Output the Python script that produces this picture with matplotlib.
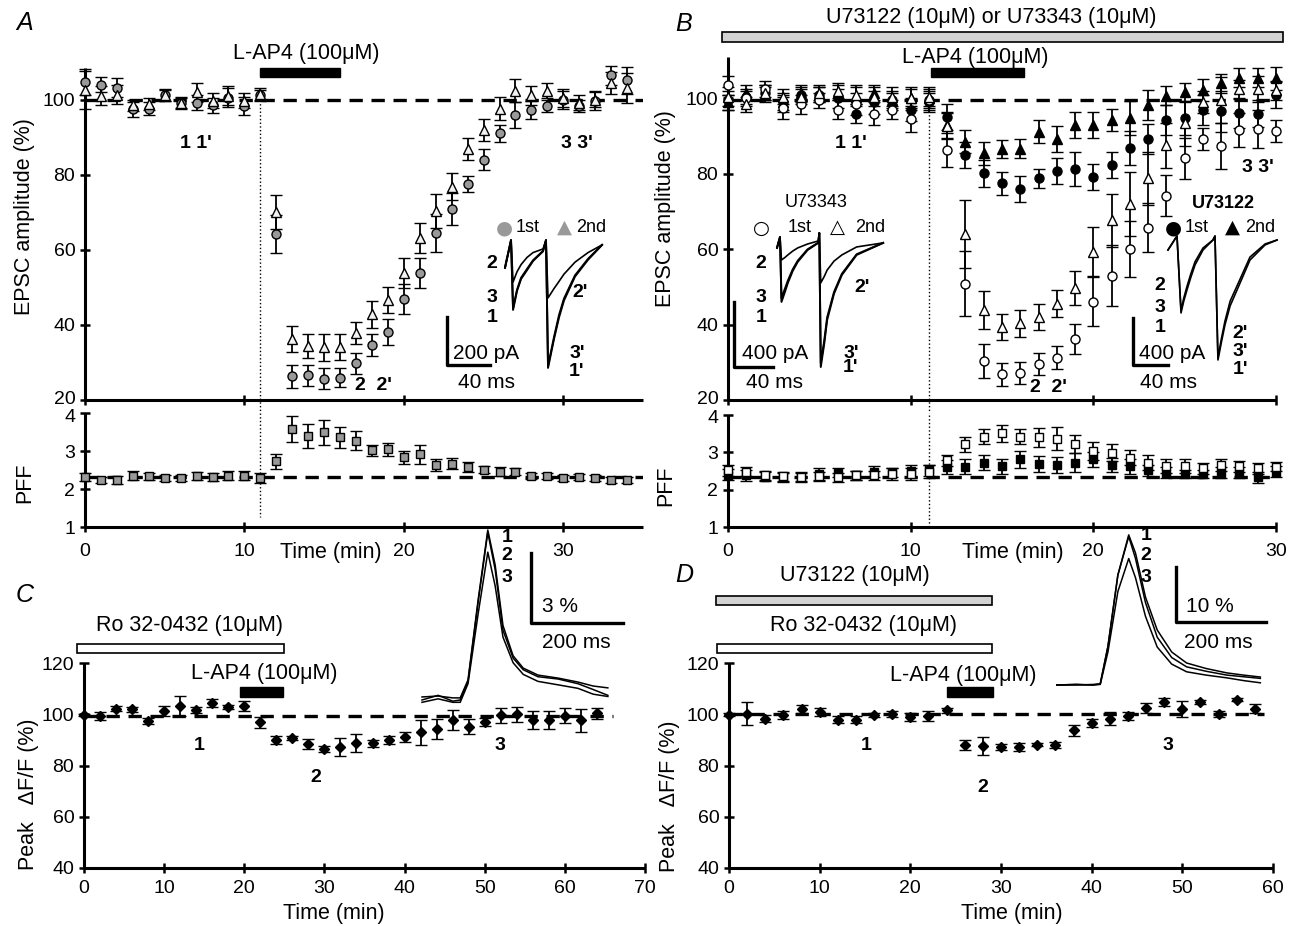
import numpy as np
import matplotlib
matplotlib.use("Agg")
import matplotlib.pyplot as plt
from matplotlib.patches import Rectangle
from matplotlib.transforms import ScaledTranslation

plt.rcParams["font.family"] = ["Liberation Sans", "DejaVu Sans"]
plt.rcParams["font.size"] = 14

W, H = 1293, 926

# ---------------- panel A : EPSC amplitude and PPF ----------------
a_time = np.arange(0, 35)
a_1st = [104.7, 104.1, 103.3, 97.5, 97.7, 101.3, 99.1, 99.3, 98.6, 100.6, 98.4, 101.2,
         64.3, 26.3, 26.6, 25.6, 25.9, 29.8, 34.7, 38.2, 46.9, 53.9, 64.5, 70.9, 77.6,
         84.1, 91.1, 95.9, 97.3, 98.4, 100.0, 98.4, 99.8, 106.6, 105.2]
a_1st_err = [3.5, 2.0, 2.5, 2.0, 1.8, 1.5, 1.5, 2.0, 2.0, 2.5, 2.5, 1.5, 5.0, 3.0, 2.8,
             2.8, 2.5, 2.8, 3.0, 3.5, 4.0, 4.0, 5.0, 4.2, 2.2, 2.8, 2.2, 3.5, 2.5, 1.5,
             2.5, 1.5, 2.5, 2.5, 3.5]
a_2nd = [102.7, 101.1, 101.4, 98.6, 98.9, 101.2, 99.3, 102.0, 99.8, 101.1, 99.8, 101.6,
         70.2, 36.3, 34.4, 34.0, 34.2, 37.9, 42.8, 46.7, 53.9, 63.1, 70.3, 76.9, 86.9,
         92.0, 97.7, 102.5, 101.2, 102.4, 100.5, 99.3, 100.0, 104.5, 103.2]
a_2nd_err = [5.0, 2.5, 2.5, 1.5, 1.5, 1.5, 1.5, 2.5, 2.0, 2.5, 2.0, 1.5, 4.5, 3.5, 3.2,
             3.5, 3.5, 3.0, 3.5, 3.5, 4.0, 4.0, 4.5, 3.5, 3.0, 3.0, 3.0, 3.0, 2.5, 2.0,
             2.5, 2.0, 2.0, 3.0, 4.0]
a_pff = [2.32, 2.23, 2.23, 2.35, 2.33, 2.29, 2.29, 2.35, 2.32, 2.35, 2.35, 2.29, 2.73,
         3.58, 3.40, 3.49, 3.36, 3.27, 3.02, 3.04, 2.83, 2.92, 2.63, 2.67, 2.58, 2.51,
         2.46, 2.46, 2.35, 2.35, 2.29, 2.31, 2.29, 2.23, 2.23]
a_pff_err = [0.10, 0.08, 0.10, 0.12, 0.10, 0.08, 0.08, 0.10, 0.10, 0.12, 0.12, 0.12,
             0.20, 0.35, 0.32, 0.32, 0.28, 0.25, 0.15, 0.18, 0.18, 0.25, 0.15, 0.15,
             0.12, 0.10, 0.12, 0.10, 0.08, 0.08, 0.08, 0.08, 0.08, 0.08, 0.08]

# example EPSC traces (ms, pA)
a_tr_t = [0, 5.6, 7.5, 11.2, 15.0, 20.6, 26.2, 35.5, 38.3, 40.2, 45.8, 50.5, 55.1,
          65.4, 77.6, 90.7]
a_tr_1 = [-104, 12, -279, -200, -150, -113, -75, -35, 12, -521, -400, -310, -240,
          -140, -70, -8]
a_tr_2 = [-104, 12, -163, -120, -90, -60, -40, -25, 12, -229, -190, -160, -130,
          -80, -40, -8]
a_tr_3 = [-100, 12, -272, -195, -145, -108, -72, -33, 12, -512, -392, -300, -232,
          -135, -66, -8]

# ---------------- panel B ----------------
b_time = np.arange(0, 31)
b_343_1st = [103.5, 100.0, 102.5, 97.5, 98.5, 99.5, 97.0, 98.5, 96.0, 97.0, 94.5, 99.5,
             86.3, 50.9, 30.3, 26.8, 27.2, 29.5, 31.2, 36.2, 46.1, 53.0, 60.0, 65.7,
             74.2, 84.1, 89.2, 87.4, 91.6, 91.9, 91.4]
b_343_1st_err = [2.5, 2.0, 2.0, 3.0, 2.5, 2.0, 2.5, 3.0, 3.0, 2.5, 3.5, 2.5, 4.5, 8.5,
                 4.5, 3.0, 3.0, 3.0, 3.0, 4.0, 6.5, 8.0, 7.5, 6.5, 5.5, 5.5, 3.0, 6.0,
                 4.5, 5.0, 3.0]
b_343_2nd = [100.5, 98.5, 101.5, 100.5, 100.5, 101.5, 102.0, 101.0, 100.5, 100.5, 100.0,
             100.5, 92.7, 64.0, 43.9, 39.4, 40.3, 42.1, 45.6, 49.6, 59.3, 67.7, 72.1,
             78.8, 87.6, 93.4, 99.1, 99.6, 102.4, 102.5, 102.2]
b_343_2nd_err = [2.5, 2.0, 2.0, 2.0, 2.0, 2.0, 2.0, 2.5, 2.5, 2.5, 3.0, 2.5, 3.5, 9.0,
                 5.0, 3.5, 3.5, 3.5, 3.5, 4.5, 6.5, 7.0, 8.5, 7.0, 6.0, 6.0, 3.0, 6.0,
                 2.5, 3.5, 2.5]
b_122_1st = [99.5, 100.5, 101.5, 99.0, 101.0, 101.0, 100.0, 96.0, 99.0, 99.5, 97.0, 99.0,
             95.1, 85.0, 80.1, 77.5, 76.0, 78.8, 80.7, 81.2, 79.2, 82.3, 86.9, 89.2,
             94.3, 94.7, 96.9, 96.6, 96.2, 96.0, 100.9]
b_122_1st_err = [2.5, 2.0, 2.0, 2.5, 2.0, 2.0, 2.5, 2.5, 3.0, 2.5, 3.0, 2.5, 3.5, 3.5,
                 3.5, 3.0, 3.5, 2.5, 3.5, 4.5, 3.5, 3.5, 4.5, 4.0, 4.0, 4.5, 4.0, 5.5,
                 4.0, 3.5, 3.5]
b_122_2nd = [99.0, 101.5, 101.0, 99.0, 101.5, 101.0, 101.5, 100.5, 101.5, 99.5, 100.0,
             100.0, 92.9, 88.5, 85.4, 86.6, 86.7, 91.2, 89.2, 92.9, 92.9, 94.3, 94.9,
             98.2, 100.7, 101.6, 102.2, 104.0, 105.5, 105.5, 105.3]
b_122_2nd_err = [2.0, 2.0, 2.0, 2.0, 2.0, 2.0, 2.0, 2.5, 2.0, 2.0, 2.5, 2.5, 3.5, 3.0,
                 3.0, 2.5, 2.5, 3.0, 3.5, 3.5, 3.5, 3.0, 4.5, 4.0, 2.5, 2.5, 3.0, 2.5,
                 2.5, 2.5, 3.0]
b_pff_343 = [2.52, 2.48, 2.39, 2.36, 2.33, 2.36, 2.33, 2.39, 2.39, 2.42, 2.42, 2.48, 2.79,
             3.22, 3.42, 3.51, 3.42, 3.40, 3.37, 3.22, 3.04, 2.99, 2.86, 2.72, 2.63,
             2.63, 2.57, 2.66, 2.63, 2.57, 2.61]
b_pff_343_err = [0.15, 0.12, 0.12, 0.12, 0.12, 0.12, 0.12, 0.12, 0.12, 0.15, 0.15, 0.18,
                 0.15, 0.20, 0.20, 0.22, 0.20, 0.25, 0.30, 0.25, 0.25, 0.22, 0.20, 0.20,
                 0.18, 0.18, 0.15, 0.15, 0.15, 0.15, 0.12]
b_pff_122 = [2.40, 2.38, 2.35, 2.33, 2.35, 2.42, 2.45, 2.38, 2.48, 2.45, 2.50, 2.52, 2.61,
             2.61, 2.72, 2.63, 2.81, 2.68, 2.66, 2.72, 2.81, 2.66, 2.63, 2.52, 2.45,
             2.42, 2.42, 2.45, 2.45, 2.33, 2.48]
b_pff_122_err = [0.15, 0.15, 0.12, 0.12, 0.12, 0.15, 0.12, 0.12, 0.15, 0.12, 0.15, 0.15,
                 0.18, 0.20, 0.20, 0.20, 0.22, 0.22, 0.22, 0.25, 0.20, 0.20, 0.20, 0.15,
                 0.15, 0.12, 0.12, 0.15, 0.15, 0.15, 0.15]

# example traces, U73343 (ms, pA)
b1_tr_t = [0, 3, 4.5, 8, 11, 16, 21, 31, 42, 43, 44.5, 48, 51, 58, 66, 81, 108]
b1_tr_1 = [-49, 18, -381, -320, -264, -190, -135, -62, -18, 43, -781, -640, -492,
           -330, -215, -92, -18]
b1_tr_2 = [-49, 18, -123, -108, -92, -68, -49, -25, -6, 43, -264, -225, -185,
           -130, -92, -43, -18]
b1_tr_3 = [-45, 18, -357, -300, -250, -180, -128, -58, -16, 43, -756, -620, -476,
           -320, -208, -88, -18]
# example traces, U73122 (ms, pA)
b2_tr_t = [0, 10.3, 14.9, 18.0, 21.7, 26.0, 30.9, 40.0, 51.4, 53.7, 57.1, 61.0, 65.1,
           71.0, 78.9, 93.7, 110.9, 124.6]
b2_tr_1 = [-85, 34, -620, -520, -425, -320, -212, -85, 0, 34, -1020, -870, -722,
           -560, -425, -170, -42, 0]
b2_tr_2 = [-85, 34, -600, -495, -395, -290, -185, -68, 0, 34, -1000, -840, -690,
           -520, -390, -145, -34, 0]

# ---------------- panel C ----------------
c_time = np.arange(0, 65, 2)
c_val = [99.7, 99.4, 102.2, 101.9, 97.4, 101.3, 103.2, 101.5, 104.5, 102.8, 103.2, 96.8,
         89.9, 90.7, 88.4, 86.5, 87.4, 88.6, 88.6, 89.9, 91.0, 92.9, 94.2, 97.7, 95.1,
         97.0, 99.6, 100.0, 97.7, 97.7, 99.4, 97.7, 100.3]
c_err = [0.5, 1.5, 1.0, 1.0, 1.2, 2.0, 4.0, 1.2, 1.5, 0.8, 2.0, 2.2, 1.5, 0.8, 2.0, 1.2,
         3.5, 3.5, 1.5, 1.5, 2.0, 5.0, 4.0, 4.0, 3.0, 1.5, 3.0, 3.0, 3.5, 3.5, 3.0, 4.5, 2.0]
# Ca transients (ms, %)
c_tr_t = [0, 35, 67, 83, 100, 122, 143, 159, 176, 198, 220, 252, 296, 339, 372, 404]
c_tr_1 = [0.13, 0.17, 0.09, 0.09, 0.86, 4.3, 7.3, 5.8, 3.2, 1.9, 1.37, 1.07, 0.94, 0.77, 0.6, 0.52]
c_tr_2 = [0.0, 0.2, -0.05, 0.0, 0.8, 4.2, 7.2, 5.6, 3.0, 1.8, 1.3, 1.0, 0.9, 0.7, 0.45, 0.2]
c_tr_3 = [-0.1, 0.05, -0.1, -0.1, 0.7, 3.7, 6.35, 4.9, 2.7, 1.6, 1.1, 0.8, 0.65, 0.5, 0.25, 0.15]

# ---------------- panel D ----------------
d_time = np.arange(0, 59, 2)
d_val = [99.8, 100.2, 98.3, 99.8, 102.1, 100.8, 97.9, 97.9, 99.8, 100.2, 98.8, 99.2,
         101.5, 88.1, 87.5, 87.2, 87.2, 88.1, 88.1, 93.7, 96.6, 98.3, 99.2, 102.4, 104.7,
         102.1, 104.8, 100.2, 105.7, 102.1]
d_err = [0.5, 4.5, 1.5, 1.5, 1.5, 1.5, 1.5, 1.5, 0.8, 1.2, 1.5, 2.0, 1.0, 2.0, 3.5, 1.3,
         1.5, 0.5, 1.2, 2.0, 1.5, 2.5, 1.5, 2.0, 1.5, 3.0, 0.8, 1.2, 0.5, 1.8]
d_tr_t = [0, 43, 80, 96, 113, 135, 159, 174, 196, 222, 254, 287, 330, 376, 413, 450]
d_tr_1 = [0, 0.1, 0, 0.2, 7, 20, 27.3, 24, 16, 10, 6, 4.0, 3.0, 2.2, 1.8, 1.45]
d_tr_2 = [0, 0, 0.1, 0.2, 7, 20, 27, 23, 15, 8.7, 5.0, 3.3, 2.5, 1.8, 1.5, 1.2]
d_tr_3 = [0, 0.1, 0, 0.1, 6, 17, 23, 19.5, 12.5, 6.9, 3.8, 2.4, 1.8, 1.3, 0.8, 0.4]


fig = plt.figure(figsize=(W / 100, H / 100), dpi=100)


def px_rect(x0, y0, x1, y1):
    return [x0 / W, 1 - y1 / H, (x1 - x0) / W, (y1 - y0) / H]


def ftext(x, y, s, **kw):
    kw.setdefault("ha", "center")
    kw.setdefault("va", "center")
    fig.text(x / W, 1 - y / H, s, **kw)


def style(ax):
    for side in ("top", "right"):
        ax.spines[side].set_visible(False)
    for side in ("left", "bottom"):
        ax.spines[side].set_linewidth(2.2)
        ax.spines[side].set_capstyle("butt")
    ax.tick_params(direction="inout", length=7, width=1.8, labelsize=14)


def nudge_label(ax, index, dy_px):
    # shift one y tick label up/down by a few pixels
    lbl = ax.get_yticklabels()[index]
    lbl.set_transform(lbl.get_transform() + ScaledTranslation(0, dy_px / 100, fig.dpi_scale_trans))


def ebar(ax, x, y, e, marker, fc, ms=6.5):
    cont = ax.errorbar(x, y, yerr=e, fmt=marker, ms=ms, mfc=fc, mec="k", mew=1.0,
                       ecolor="k", elinewidth=1.3, capsize=4, capthick=1.3, zorder=3)
    for art in cont.get_children():
        art.set_clip_on(False)


def inset(x0, y0, x1, y1, xlim, ylim):
    ax = fig.add_axes(px_rect(x0, y0, x1, y1))
    ax.set_xlim(*xlim)
    ax.set_ylim(*ylim)
    ax.axis("off")
    return ax


dash = (0, (4, 2.6))
bold = dict(fontweight="bold", fontsize=14)
drug = dict(fontsize=15.5)
scal = dict(fontsize=15)
lab = dict(fontsize=15.5)
sym = dict(family="DejaVu Sans", fontsize=14)

# ================= A =================
axA = fig.add_axes(px_rect(85, 68, 643, 400))
style(axA)
axA.set_xlim(0, 35)
axA.set_ylim(20, 108.5)
axA.set_yticks([20, 40, 60, 80, 100])
axA.set_xticks([0, 10, 20, 30])
axA.set_xticklabels([])
axA.axhline(100, color="k", lw=2.4, ls=dash, zorder=1)
axA.plot([11, 11], [100, 17], color="k", lw=1, ls=":", clip_on=False)
ebar(axA, a_time, a_1st, a_1st_err, "o", "#999999")
ebar(axA, a_time, a_2nd, a_2nd_err, "^", "#f2f2f2", ms=7)
axA.add_patch(Rectangle((11, 106.1), 5, 2.4, color="k", clip_on=False))
axA.set_ylabel("EPSC amplitude (%)", **lab)
axA.yaxis.set_label_coords(-0.09, 0.554)
nudge_label(axA, 0, 3)

axAp = fig.add_axes(px_rect(85, 413, 643, 527))
style(axAp)
axAp.set_xlim(0, 35)
axAp.set_ylim(1, 4)
axAp.set_yticks([1, 2, 3, 4])
axAp.set_xticks([0, 10, 20, 30])
axAp.tick_params(axis="x", pad=8)
axAp.axhline(2.32, color="k", lw=2.4, ls=dash, zorder=1)
axAp.plot([11, 11], [4, 1.26], color="k", lw=1, ls=":")
ebar(axAp, a_time, a_pff, a_pff_err, "s", "#999999", ms=6)
axAp.set_ylabel("PFF", **lab)
axAp.yaxis.set_label_coords(-0.09, 0.39)
axAp.set_xlabel("Time (min)", **lab)
axAp.xaxis.set_label_coords(0.44, -0.13)
nudge_label(axAp, 3, -2)

ftext(25, 23, "A", fontsize=18, style="italic")
ftext(306, 54, "L-AP4 (100μM)", **drug)
ftext(196, 143, "1 1'", **bold)
ftext(577, 143, "3 3'", **bold)
ftext(373, 385, "2  2'", **bold)
ftext(504, 228, "●", color="#999999", **sym)
ftext(528, 228, "1st", fontsize=13)
ftext(564, 227, "▲", color="#999999", **sym)
ftext(591, 228, "2nd", fontsize=13)

axAi = inset(437, 225, 615, 395, (-63.6, 102.8), (-634, 75))
for tr, lw in ((a_tr_1, 1.4), (a_tr_2, 1.2), (a_tr_3, 1.4)):
    axAi.plot(a_tr_t, tr, color="k", lw=lw)
axAi.plot([-54.2, -54.2, -14.2], [-309, -509, -509], color="k", lw=2.4)
for x, y, s in ((492, 263, "2"), (492, 297, "3"), (492, 317, "1"),
                (580, 292, "2'"), (577, 353, "3'"), (577, 372, "1'")):
    ftext(x, y, s, **bold)
ftext(486, 353, "200 pA", **scal)
ftext(487, 383, "40 ms", **scal)

# ================= B =================
axB = fig.add_axes(px_rect(728, 57, 1276, 400))
style(axB)
axB.set_xlim(0, 30)
axB.set_ylim(20, 111)
axB.set_yticks([20, 40, 60, 80, 100])
axB.set_xticks([0, 10, 20, 30])
axB.set_xticklabels([])
axB.axhline(99.5, color="k", lw=2.4, ls=dash, zorder=1)
axB.plot([11, 11], [99.5, 16.5], color="k", lw=1, ls=":", clip_on=False)
ebar(axB, b_time, b_122_1st, b_122_1st_err, "o", "k")
ebar(axB, b_time, b_122_2nd, b_122_2nd_err, "^", "k", ms=7)
ebar(axB, b_time, b_343_1st, b_343_1st_err, "o", "white")
ebar(axB, b_time, b_343_2nd, b_343_2nd_err, "^", "white", ms=7)
axB.add_patch(Rectangle((11.1, 105.7), 5.1, 2.4, color="k", clip_on=False))
axB.add_patch(Rectangle((-0.33, 115.0), 30.7, 2.7, facecolor="#d3d3d3",
                        edgecolor="k", lw=1.2, clip_on=False))
axB.set_ylabel("EPSC amplitude (%)", **lab)
axB.yaxis.set_label_coords(-0.095, 0.557)
nudge_label(axB, 0, 3)

axBp = fig.add_axes(px_rect(728, 415, 1276, 527))
style(axBp)
axBp.set_xlim(0, 30)
axBp.set_ylim(1, 4)
axBp.set_yticks([1, 2, 3, 4])
axBp.set_xticks([0, 10, 20, 30])
axBp.tick_params(axis="x", pad=8)
axBp.axhline(2.33, color="k", lw=2.4, ls=dash, zorder=1)
axBp.plot([11, 11], [4, 1.0], color="k", lw=1, ls=":")
ebar(axBp, b_time, b_pff_122, b_pff_122_err, "s", "k", ms=6)
ebar(axBp, b_time, b_pff_343, b_pff_343_err, "s", "white", ms=6)
axBp.set_ylabel("PFF", **lab)
axBp.yaxis.set_label_coords(-0.095, 0.37)
axBp.set_xlabel("Time (min)", **lab)
axBp.xaxis.set_label_coords(0.52, -0.13)
nudge_label(axBp, 3, -2)

ftext(684, 24, "B", fontsize=18, style="italic")
ftext(991, 18, "U73122 (10μM) or U73343 (10μM)", **drug)
ftext(975, 57, "L-AP4 (100μM)", **drug)
ftext(851, 143, "1 1'", **bold)
ftext(1258, 168, "3 3'", **bold)
ftext(1048, 387, "2  2'", **bold)
ftext(816, 202, "U73343", fontsize=13)
ftext(761, 228, "○", **sym)
ftext(800, 228, "1st", fontsize=13)
ftext(837, 227, "△", **sym)
ftext(870, 228, "2nd", fontsize=13)
ftext(1223, 203, "U73122", fontsize=13, fontweight="bold")
ftext(1173, 228, "●", **sym)
ftext(1197, 228, "1st", fontsize=13)
ftext(1232, 227, "▲", **sym)
ftext(1260, 228, "2nd", fontsize=13)

axB1 = inset(724, 225, 891, 380, (-54, 116), (-861, 92))
for tr, lw in ((b1_tr_1, 1.4), (b1_tr_2, 1.2), (b1_tr_3, 1.4)):
    axB1.plot(b1_tr_t, tr, color="k", lw=lw)
axB1.plot([-44, -44, -4], [-381, -781, -781], color="k", lw=2.4)
for x, y, s in ((761, 263, "2"), (761, 298, "3"), (761, 318, "1"),
                (862, 287, "2'"), (851, 353, "3'"), (851, 368, "1'")):
    ftext(x, y, s, **bold)
ftext(775, 353, "400 pA", **scal)
ftext(775, 383, "40 ms", **scal)

axB2 = inset(1125, 225, 1292, 380, (-49.1, 141.7), (-1190, 127.5))
for tr in (b2_tr_1, b2_tr_2):
    axB2.plot(b2_tr_t, tr, color="k", lw=1.2)
axB2.plot([-40, -40, 0], [-663, -1063, -1063], color="k", lw=2.4)
for x, y, s in ((1160, 285, "2"), (1160, 307, "3"), (1160, 328, "1"),
                (1240, 333, "2'"), (1240, 352, "3'"), (1240, 370, "1'")):
    ftext(x, y, s, **bold)
ftext(1172, 353, "400 pA", **scal)
ftext(1168, 382, "40 ms", **scal)

# ================= C =================
axC = fig.add_axes(px_rect(84, 663, 645, 868))
style(axC)
axC.set_xlim(0, 70)
axC.set_ylim(40, 120)
axC.set_yticks([40, 60, 80, 100, 120])
axC.set_xticks(range(0, 71, 10))
axC.tick_params(axis="x", pad=5)
axC.axhline(99.5, color="k", lw=2.4, ls=dash, zorder=1, xmax=66 / 70)
ebar(axC, c_time, c_val, c_err, "D", "k", ms=5)
axC.add_patch(Rectangle((-0.9, 123.9), 25.9, 3.5, facecolor="white", edgecolor="k",
                        lw=1.2, clip_on=False))
axC.add_patch(Rectangle((19.5, 106.7), 5.3, 3.9, color="k", clip_on=False))
axC.set_ylabel("Peak   ΔF/F (%)", **lab)
axC.yaxis.set_label_coords(-0.08, 0.36)
axC.set_xlabel("Time (min)", **lab)
axC.xaxis.set_label_coords(0.445, -0.17)

ftext(25, 595, "C", fontsize=18, style="italic")
ftext(189, 626, "Ro 32-0432 (10μM)", **drug)
ftext(264, 674, "L-AP4 (100μM)", **drug)
ftext(199, 745, "1", **bold)
ftext(316, 778, "2", **bold)
ftext(500, 746, "3", **bold)

axCi = inset(413, 520, 628, 710, (-19.6, 447.8), (-0.43, 7.73))
for tr in (c_tr_1, c_tr_2, c_tr_3):
    axCi.plot(c_tr_t, tr, color="k", lw=1.1)
axCi.plot([237, 237, 437], [6.3, 3.3, 3.3], color="k", lw=2.4)
for x, y, s in ((507, 537, "1"), (507, 555, "2"), (507, 577, "3")):
    ftext(x, y, s, **bold)
ftext(560, 606, "3 %", **scal)
ftext(576, 642, "200 ms", **scal)

# ================= D =================
axD = fig.add_axes(px_rect(729, 663, 1273, 868))
style(axD)
axD.set_xlim(0, 60)
axD.set_ylim(40, 120)
axD.set_yticks([40, 60, 80, 100, 120])
axD.set_xticks(range(0, 61, 10))
axD.tick_params(axis="x", pad=5)
axD.axhline(100, color="k", lw=2.4, ls=dash, zorder=1, xmax=59 / 60)
ebar(axD, d_time, d_val, d_err, "D", "k", ms=5)
axD.add_patch(Rectangle((-1.4, 142.6), 30.4, 3.5, facecolor="#d3d3d3", edgecolor="k",
                        lw=1.2, clip_on=False))
axD.add_patch(Rectangle((-1.3, 123.9), 30.3, 3.5, facecolor="white", edgecolor="k",
                        lw=1.2, clip_on=False))
axD.add_patch(Rectangle((24, 106.7), 5.1, 3.9, color="k", clip_on=False))
axD.set_ylabel("Peak   ΔF/F (%)", **lab)
axD.yaxis.set_label_coords(-0.09, 0.35)
axD.set_xlabel("Time (min)", **lab)
axD.xaxis.set_label_coords(0.52, -0.17)

ftext(684, 575, "D", fontsize=18, style="italic")
ftext(855, 575, "U73122 (10μM)", **drug)
ftext(863, 626, "Ro 32-0432 (10μM)", **drug)
ftext(963, 675, "L-AP4 (100μM)", **drug)
ftext(866, 745, "1", **bold)
ftext(983, 787, "2", **bold)
ftext(1168, 745, "3", **bold)

axDi = inset(1047, 525, 1273, 695, (-21.7, 478), (-1.82, 29.1))
for tr in (d_tr_1, d_tr_2, d_tr_3):
    axDi.plot(d_tr_t, tr, color="k", lw=1.1)
axDi.plot([263, 263, 463], [21.5, 11.5, 11.5], color="k", lw=2.4)
for x, y, s in ((1146, 535, "1"), (1146, 555, "2"), (1146, 577, "3")):
    ftext(x, y, s, **bold)
ftext(1210, 606, "10 %", **scal)
ftext(1218, 642, "200 ms", **scal)

fig.savefig("out.png", dpi=100)
